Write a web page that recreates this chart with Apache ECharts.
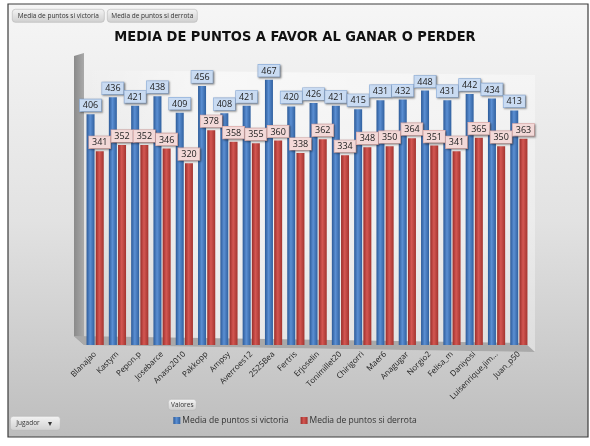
<!DOCTYPE html>
<html><head><meta charset="utf-8">
<script src="https://cdn.jsdelivr.net/npm/echarts@6/dist/echarts.min.js"></script>
<style>html,body{margin:0;padding:0;background:#fff}#c{width:590px;height:446px}</style>
</head><body><div id="c"></div>
<script>
const jugadores = ['Blanajao','Kastym','Pepon.p','Josebarce','Anaso2010','Pakkopp','Ampsy','Averroes12','2525Bea','Fertris','Erjoselin','Tonimillet20','Chirigorri','Maer6','Anagugar','Norgio2','Felisa_m','Daniyosi','Luisenrique.jim...','Juan_p50'];
const victoria = [406,436,421,438,409,456,408,421,467,420,426,421,415,431,432,448,431,442,434,413];
const derrota  = [341,352,352,346,320,378,358,355,360,338,362,334,348,350,364,351,341,365,350,363];
const nombres = ['Media de puntos si victoria','Media de puntos si derrota'];

const chart = echarts.init(document.getElementById('c'));
const font = 'Open Sans, Noto Sans, sans-serif';
function grad(a,b,c){return {type:'linear',x:0,y:0,x2:1,y2:0,colorStops:[{offset:0,color:a},{offset:0.45,color:b},{offset:1,color:c}]};}
function btn(x,y,w,h,t){return {type:'group',left:x,top:y,children:[
  {type:'rect',shape:{x:0,y:0,width:w,height:h,r:3},style:{fill:{type:'linear',x:0,y:0,x2:0,y2:1,colorStops:[{offset:0,color:'#f4f4f4'},{offset:1,color:'#cfcfcf'}]},stroke:'#b5b5b5',lineWidth:0.6}},
  {type:'text',x:w/2,y:h/2,style:{text:t,fontSize:6.5,fontFamily:font,fill:'#333',align:'center',verticalAlign:'middle'}}]};}
const lblBase = {show:true,position:'top',distance:3,fontSize:9,fontFamily:font,color:'#222',padding:[2,3,1,3],borderWidth:0.6,shadowColor:'rgba(0,0,0,0.35)',shadowBlur:2,shadowOffsetX:1,shadowOffsetY:1};
chart.setOption({
  animation:false,
  backgroundColor:'#ffffff',
  graphic:[
    {type:'rect',shape:{x:8,y:4,width:580,height:433},z:-10,style:{fill:{type:'linear',x:0,y:0,x2:0,y2:1,colorStops:[{offset:0,color:'#f6f6f6'},{offset:0.5,color:'#e2e2e2'},{offset:1,color:'#bdbdbd'}]},stroke:'#3c3c3c',lineWidth:1.2}},
    {type:'polygon',z:-9,shape:{points:[[84,70],[535,75],[535,352],[84,345]]},style:{fill:{type:'linear',x:0,y:0,x2:1,y2:0,colorStops:[{offset:0,color:'rgba(255,255,255,0.0)'},{offset:0.3,color:'rgba(255,255,255,0.55)'},{offset:1,color:'rgba(255,255,255,0.35)'}]}}},
    {type:'polygon',z:-8,shape:{points:[[74,56],[84,53],[84,345],[74,336]]},style:{fill:{type:'linear',x:0,y:0,x2:1,y2:0,colorStops:[{offset:0,color:'#8a8a8a'},{offset:1,color:'#a9a9a9'}]}}},
    {type:'polygon',z:-8,shape:{points:[[74,336],[84,345],[535,352],[525,343]]},style:{fill:'#a9a9a9'}},
    btn(12,9,92,13,nombres[0]),
    btn(107,9,90,13,nombres[1]),
    btn(168,399,28,11,'Valores'),
    {type:'group',left:10,top:416,children:[
      {type:'rect',shape:{x:0,y:0,width:50,height:14,r:3},style:{fill:{type:'linear',x:0,y:0,x2:0,y2:1,colorStops:[{offset:0,color:'#f4f4f4'},{offset:1,color:'#d0d0d0'}]},stroke:'#b5b5b5',lineWidth:0.6}},
      {type:'text',x:6,y:7,style:{text:'Jugador',fontSize:6.5,fontFamily:font,fill:'#333',verticalAlign:'middle'}},
      {type:'text',x:40,y:7,style:{text:'▾',fontSize:8,fontFamily:font,fill:'#333',align:'center',verticalAlign:'middle'}}]}
  ],
  title:{text:'MEDIA DE PUNTOS A FAVOR AL GANAR O PERDER',left:'center',top:25,
    textStyle:{fontSize:14.5,fontWeight:'bold',fontFamily:'Liberation Sans Narrow, DejaVu Sans Condensed, sans-serif',color:'#111'}},
  legend:{bottom:16,left:'center',itemWidth:7,itemHeight:7,itemGap:12,icon:'rect',
    textStyle:{fontSize:8.5,fontFamily:font,color:'#333',padding:[0,0,0,-3]},data:nombres},
  grid:{left:84,right:60,top:78,bottom:101},
  xAxis:{type:'category',data:jugadores,axisLine:{show:false},axisTick:{show:false},
    axisLabel:{interval:0,rotate:45,fontSize:8,fontFamily:font,color:'#222',margin:8}},
  yAxis:{type:'value',min:0,max:470,show:false,splitLine:{show:false}},
  series:[
    {name:nombres[0],type:'bar',data:victoria,barWidth:8,barGap:'15%',
      itemStyle:{color:grad('#2c5a98','#5b8fd3','#30609f')},
      label:Object.assign({},lblBase,{backgroundColor:'#c9dbf2',borderColor:'#8fb0dc'})},
    {name:nombres[1],type:'bar',data:derrota,barWidth:8,
      itemStyle:{color:grad('#9a2e2b','#d45752','#a3342f')},
      label:Object.assign({},lblBase,{backgroundColor:'#f3d9d8',borderColor:'#dca8a6'})}
  ],
  color:['#4a7ebb','#c0504d']
});
</script></body></html>
